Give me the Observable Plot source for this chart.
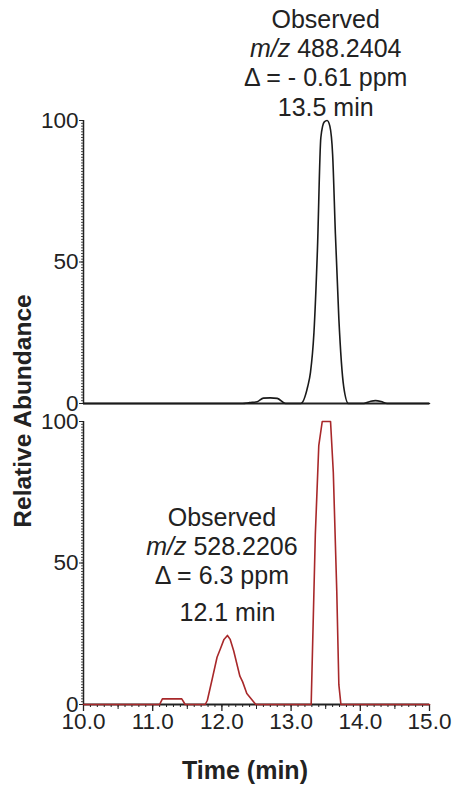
<!DOCTYPE html>
<html>
<head>
<meta charset="utf-8">
<script src="https://cdn.jsdelivr.net/npm/d3@7"></script>
<script src="https://cdn.jsdelivr.net/npm/@observablehq/plot@0.6"></script>
<style>
  body { margin: 0; background: #fff; }
  #chart { position: relative; width: 457px; height: 790px; font-family: "Liberation Sans", Arial, sans-serif; color: #222; background: #fff; overflow: hidden; }
  #chart svg { position: absolute; left: 0; }
  #ylab { position: absolute; left: 23px; top: 411px; transform: translate(-50%, -50%) rotate(-90deg); font-weight: bold; font-size: 24.5px; white-space: nowrap; }
  #xlab { position: absolute; left: 245px; top: 770px; transform: translate(-50%, -50%); font-weight: bold; font-size: 25px; white-space: nowrap; }
</style>
</head>
<body>
<div id="chart">
  <div id="ylab">Relative Abundance</div>
  <div id="xlab">Time (min)</div>
</div>
<script>
// ---- data ----
const xDomain = [10, 15];
const yDomain = [0, 100];
const yTickValues = [0, 50, 100];
const xTickValues = [10, 11, 12, 13, 14, 15];
const xHalfTickValues = [10.5, 11.5, 12.5, 13.5, 14.5];
const xMinorTickValues = d3.range(100, 151).map(d => d / 10);
const yMinorTickValues = d3.range(0, 101);

// Top trace: m/z 488.2404
const topTime  = [10.0, 12.30, 12.40, 12.51, 12.60, 12.70, 12.80, 12.92, 13.14, 13.24, 13.28, 13.33, 13.38, 13.43, 13.48, 13.52, 13.56, 13.60, 13.64, 13.69, 13.76, 13.83, 14.05, 14.15, 14.22, 14.30, 14.39, 15.0];
const topValue = [0,    0,     0.3,   0.6,   1.9,   2.0,   1.8,   0,     0,     6,     11,    25,    54,    94,    99.5,  100,   98,    88,    60,    30,    6,     0,     0,     0.8,   1.0,   0.7,   0,     0];

// Bottom trace: m/z 528.2206
const botTime  = [10.0, 11.10, 11.14, 11.42, 11.47, 11.76, 11.79, 11.86, 11.93, 11.98, 12.03, 12.08, 12.12, 12.17, 12.26, 12.30, 12.36, 12.49, 13.29, 13.35, 13.40, 13.45, 13.57, 13.61, 13.66, 13.69, 13.72, 15.0];
const botValue = [0,    0,     2,     2,     0,     0,     1.5,   9,     16.7,  19.8,  23,    24.4,  23,    19,    10,    8,     3.9,   0,     0,     60,    91.5,  100,   100,   82,    40,    7,     0,     0];

// Annotations
const topNoteX = [13.5];
const topNoteY = [100];
const topNoteText = ["Observed\nm/z 488.2404\nΔ = - 0.61 ppm\n13.5 min"];
const botNoteX = [12.0];
const botNoteY = [24.4];
const botNoteText = ["Observed\nm/z 528.2206\nΔ = 6.3 ppm"];
const botRtX = [12.08];
const botRtY = [24.4];
const botRtText = ["12.1 min"];

// ---- drawing ----
const font = "Liberation Sans, Arial, sans-serif";
const ink = "#222";
const blank = () => "";
const tickFont = 22.5;

function yAxes() {
  return [
    Plot.axisY(yMinorTickValues, {tickSize: 2, tickFormat: blank, label: null, stroke: ink, strokeWidth: 0.8}),
    Plot.axisY(yTickValues, {tickSize: 4, tickPadding: 1, fontSize: tickFont, fill: ink, stroke: ink, label: null}),
    Plot.ruleX([xDomain[0]], {stroke: ink, strokeWidth: 1.5})
  ];
}

const topPlot = Plot.plot({
  width: 457, height: 410,
  marginTop: 120, marginBottom: 7, marginLeft: 83, marginRight: 28,
  style: {fontFamily: font, fontSize: tickFont + "px", color: ink, background: "transparent", overflow: "visible"},
  x: {domain: xDomain, axis: null},
  y: {domain: yDomain},
  marks: [
    ...yAxes(),
    Plot.ruleY([0], {stroke: ink, strokeWidth: 2}),
    Plot.line(topTime.map((t, i) => i), {x: i => topTime[i], y: i => topValue[i], curve: "monotone-x", stroke: "#1a1a1a", strokeWidth: 1.6}),
    Plot.text(topNoteText.map((t, i) => i), {x: i => topNoteX[i], y: i => topNoteY[i], text: i => topNoteText[i],
      lineAnchor: "bottom", lineHeight: 1.17, dy: -5, fontSize: 25, fill: ink})
  ]
});
topPlot.style.top = "0px";

const botPlot = Plot.plot({
  width: 457, height: 380,
  marginTop: 11, marginBottom: 86, marginLeft: 83, marginRight: 28,
  style: {fontFamily: font, fontSize: tickFont + "px", color: ink, background: "transparent", overflow: "visible"},
  x: {domain: xDomain},
  y: {domain: yDomain},
  marks: [
    ...yAxes(),
    Plot.axisX(xMinorTickValues, {tickSize: 3, tickFormat: blank, label: null, stroke: ink, strokeWidth: 1}),
    Plot.axisX(xHalfTickValues, {tickSize: 5, tickFormat: blank, label: null, stroke: ink, strokeWidth: 1}),
    Plot.axisX(xTickValues, {tickSize: 7, tickPadding: 2, tickFormat: d3.format(".1f"), fontSize: tickFont, fill: ink, stroke: ink, strokeWidth: 1.3, label: null}),
    Plot.ruleY([0], {stroke: ink, strokeWidth: 2.2}),
    Plot.line(botTime.map((t, i) => i), {x: i => botTime[i], y: i => botValue[i], stroke: "#a8282a", strokeWidth: 1.6}),
    Plot.text(botNoteText.map((t, i) => i), {x: i => botNoteX[i], y: i => botNoteY[i], text: i => botNoteText[i],
      lineAnchor: "bottom", lineHeight: 1.16, dy: -51, fontSize: 25, fill: ink}),
    Plot.text(botRtText.map((t, i) => i), {x: i => botRtX[i], y: i => botRtY[i], text: i => botRtText[i],
      lineAnchor: "bottom", dy: -14, fontSize: 25, fill: ink})
  ]
});
botPlot.style.top = "410px";

// italic "m/z"
for (const svg of [topPlot, botPlot]) {
  d3.select(svg).selectAll("text, tspan").each(function() {
    if (this.children.length === 0 && this.textContent.startsWith("m/z ")) {
      const rest = this.textContent.slice(3);
      this.textContent = "";
      d3.select(this).append("tspan").attr("font-style", "italic").text("m/z");
      d3.select(this).append("tspan").text(rest);
    }
  });
}

const chart = document.getElementById("chart");
chart.appendChild(topPlot);
chart.appendChild(botPlot);
</script>
</body>
</html>
